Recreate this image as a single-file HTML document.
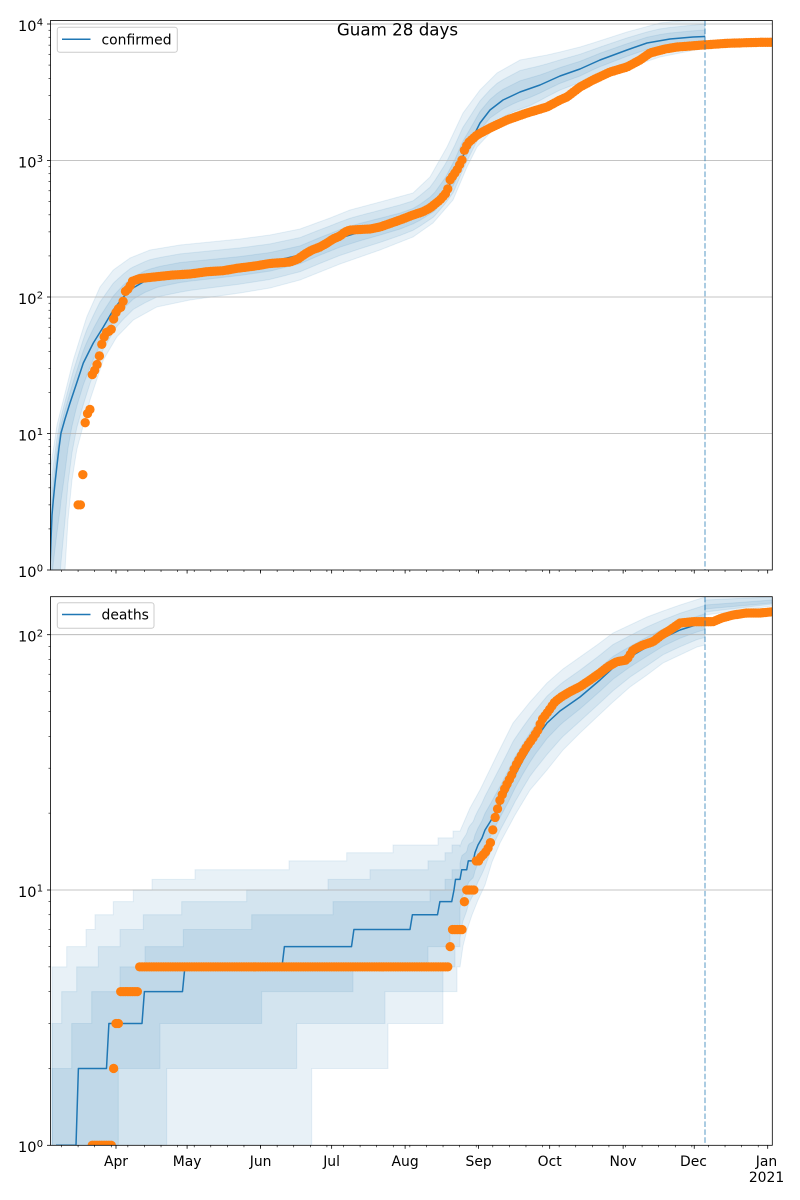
<!DOCTYPE html>
<html>
<head>
<meta charset="utf-8">
<style>
html,body{margin:0;padding:0;background:#fff;}
svg{display:block;}
text{font-family:"DejaVu Sans","Liberation Sans",sans-serif;fill:#000;}
.yl{font-size:14.5px;}
.ys{font-size:10px;}
.xl{font-size:13.9px;}
.lg{font-size:13.9px;}
</style>
</head>
<body>
<svg id="s" width="800" height="1200" viewBox="0 0 800 1200" xmlns="http://www.w3.org/2000/svg">
<defs>
<clipPath id="c1"><rect x="50.5" y="20.5" width="721.8" height="549.5"/></clipPath>
<clipPath id="c2"><rect x="50.5" y="596.7" width="721.8" height="548.6"/></clipPath>
</defs>
<rect x="0" y="0" width="800" height="1200" fill="#fff"/>
<g id="g1" clip-path="url(#c1)"></g>
<g id="g2" clip-path="url(#c2)"></g>
<g id="axes"></g>

<!-- spines -->
<rect x="50.5" y="20.5" width="721.8" height="549.5" fill="none" stroke="#000" stroke-width="0.8"/>
<rect x="50.5" y="596.7" width="721.8" height="548.6" fill="none" stroke="#000" stroke-width="0.8"/>

<!-- title -->
<text x="397.5" y="35.5" text-anchor="middle" style="font-size:16.7px">Guam 28 days</text>

<!-- top y labels -->
<text x="36.5" y="576.8" text-anchor="end" class="yl">10</text><text x="36.7" y="571.7" class="ys">0</text>
<text x="36.5" y="440.3" text-anchor="end" class="yl">10</text><text x="36.7" y="435.2" class="ys">1</text>
<text x="36.5" y="303.8" text-anchor="end" class="yl">10</text><text x="36.7" y="298.7" class="ys">2</text>
<text x="36.5" y="167.3" text-anchor="end" class="yl">10</text><text x="36.7" y="162.2" class="ys">3</text>
<text x="36.5" y="30.8" text-anchor="end" class="yl">10</text><text x="36.7" y="25.7" class="ys">4</text>

<!-- bottom y labels -->
<text x="36.5" y="1152.1" text-anchor="end" class="yl">10</text><text x="36.7" y="1147" class="ys">0</text>
<text x="36.5" y="896.8" text-anchor="end" class="yl">10</text><text x="36.7" y="891.7" class="ys">1</text>
<text x="36.5" y="641.5" text-anchor="end" class="yl">10</text><text x="36.7" y="636.4" class="ys">2</text>

<!-- x labels -->
<text x="116" y="1166" text-anchor="middle" class="xl">Apr</text>
<text x="187.1" y="1166" text-anchor="middle" class="xl">May</text>
<text x="260.6" y="1166" text-anchor="middle" class="xl">Jun</text>
<text x="331.6" y="1166" text-anchor="middle" class="xl">Jul</text>
<text x="405.1" y="1166" text-anchor="middle" class="xl">Aug</text>
<text x="478.6" y="1166" text-anchor="middle" class="xl">Sep</text>
<text x="549.7" y="1166" text-anchor="middle" class="xl">Oct</text>
<text x="623.1" y="1166" text-anchor="middle" class="xl">Nov</text>
<text x="693.5" y="1166" text-anchor="middle" class="xl">Dec</text>
<text x="766.5" y="1166" text-anchor="middle" class="xl">Jan</text>
<text x="766.5" y="1182" text-anchor="middle" class="xl">2021</text>

<!-- legends -->
<rect x="57.3" y="27.3" width="120" height="25" rx="2.5" ry="2.5" fill="#fff" fill-opacity="0.8" stroke="#cccccc" stroke-width="1"/>
<line x1="62" y1="39.3" x2="90.5" y2="39.3" stroke="#1f77b4" stroke-width="1.5"/>
<text x="101.5" y="44.3" class="lg">confirmed</text>

<rect x="57.3" y="602.7" width="96.7" height="25.6" rx="2.5" ry="2.5" fill="#fff" fill-opacity="0.8" stroke="#cccccc" stroke-width="1"/>
<line x1="62" y1="614.5" x2="90.5" y2="614.5" stroke="#1f77b4" stroke-width="1.5"/>
<text x="101.5" y="619.5" class="lg">deaths</text>
</svg>

<script>
(function(){
const NS='http://www.w3.org/2000/svg';
function el(parent, tag, attrs){ const e=document.createElementNS(NS,tag); for(const k in attrs) e.setAttribute(k,attrs[k]); parent.appendChild(e); return e; }
function pathFrom(pts){ return 'M'+pts.map(p=>p[0].toFixed(2)+','+p[1].toFixed(2)).join('L'); }
function bandPath(up, lo){ return pathFrom(up.concat(lo.slice().reverse()))+'Z'; }
function interp(p,x){ if(x<=p[0][0]) return p[0][1]; for(let k=1;k<p.length;k++){ if(x<=p[k][0]){ const a=p[k-1],b=p[k]; if(b[0]===a[0]) return b[1]; return a[1]+(b[1]-a[1])*(x-a[0])/(b[0]-a[0]); } } return p[p.length-1][1]; }
const xD=i=>116+2.3698*i;
const yT=v=>570-136.5*Math.log10(v);
const yB=v=> v<=0 ? 1175 : 1145.3-255.3*Math.log10(v);
const BLUE='#1f77b4', ORANGE='#ff7f0e';

function drawBand(g, up, lo){
  el(g,'path',{d:bandPath(up,lo), fill:BLUE, 'fill-opacity':0.1, stroke:BLUE, 'stroke-opacity':0.1, 'stroke-width':1});
}

/* ---------------- TOP PANEL ---------------- */
const g1=document.getElementById('g1');
const medT=[[50,570],[51,540],[52,515],[53.3,500],[55,483],[57,465],[59,448],[61,433],[65,419],[70,403],[76.7,383],[83.3,363],[93.3,343],[103.3,327],[113.3,310],[123.3,297],[133,288],[145,281],[160,276],[180,272],[200,270],[240,266],[270,262],[300,255],[320,246],[340,238],[360,232],[380,227],[400,222],[420,214],[435,205],[445,193],[455,175],[462,158],[470,143],[480,123],[490,110],[503,100],[520,92],[540,85],[560,76],[580,69],[600,60],[627,50],[647,43],[670,39],[693,37],[705,36.5]];
const OUT=[[50,470],[53.3,450],[57,425],[63.3,400],[73.3,360],[86.7,317],[100,287],[113.3,270],[130,258],[150,250],[180,245],[240,239],[270,235],[300,229],[330,218],[350,210],[380,202],[413,193],[430,177],[447,147],[463,113],[480,90],[497,73],[520,60],[547,55],[560,52],[580,47],[593,43],[627,32],[660,23],[705,18]];
const OLT=[[50,700],[60,640],[65,570],[68,520],[72,480],[76.7,450],[90,400],[103.3,360],[116.7,337],[133.3,320],[156.7,307],[190,300],[240,293],[270,288],[300,280],[340,264],[380,250],[413,237],[433,223],[453,200],[467,167],[477,147],[490,133],[513,120],[530,114],[547,104],[560,97],[580,89],[593,82],[627,68],[660,57],[705,48]];
{
  let oU=[],oL=[],mU=[],mL=[],iU=[],iL=[];
  for(let x=50;x<=705;x+=1){
    const m=interp(medT,x), u=interp(OUT,x), l=interp(OLT,x);
    oU.push([x,u]); oL.push([x,l]);
    mU.push([x,m+0.67*(u-m)]); mL.push([x,m+0.67*(l-m)]);
    iU.push([x,m+0.35*(u-m)]); iL.push([x,m+0.35*(l-m)]);
  }
  drawBand(g1,oU,oL); drawBand(g1,mU,mL); drawBand(g1,iU,iL);
}
// grid
[24,160.5,297,433.5].forEach(y=>el(g1,'line',{x1:50.5,y1:y,x2:772.3,y2:y,stroke:'#b0b0b0','stroke-width':0.8}));
// median
el(g1,'path',{d:pathFrom(medT),fill:'none',stroke:BLUE,'stroke-width':1.5,'stroke-linejoin':'round'});
// orange
{
  const early={'-16':3,'-15':3,'-14':5,'-13':12,'-12':14,'-11':15,'-10':27,'-9':29,'-8':32,'-7':37,'-6':45,'-5':51,'-4':55,'-3':56,'-2':58,'-1':69,'0':77,'1':82,'2':84,'3':93,'4':110,'5':114,'6':121};
  const ot=[[130,282],[140,278.5],[157,276.7],[173,275],[190,274],[207,271.7],[223,270.7],[237,268.3],[255,266],[270,263.5],[290,262],[298,259],[305,254],[312,250],[320,247],[327,243],[333,239],[340,236],[345,232],[350,230],[370,229],[380,227],[400,220],[413,215],[423,211.7],[430,208],[440,200],[447,192],[450,180],[457,170],[462,160],[463.5,152],[468,143],[477,135],[490,128],[507,120],[527,113],[547,107],[560,100],[567,97],[580,87],[593,80],[610,72],[627,67],[640,60],[650,53],[665,49],[677,47],[703,45],[727,43.3],[760,42.3],[773,42.3]];
  for(let i=-16;i<=277;i++){
    const x=xD(i); let y;
    if(early[String(i)]!==undefined) y=yT(early[String(i)]);
    else y=interp(ot,x);
    el(g1,'circle',{cx:x.toFixed(2),cy:y.toFixed(2),r:4.65,fill:ORANGE});
  }
}
el(g1,'line',{x1:705,y1:20.5,x2:705,y2:570,stroke:BLUE,'stroke-opacity':0.5,'stroke-width':1.5,'stroke-dasharray':'5.55 2.4'});

/* ---------------- BOTTOM PANEL ---------------- */
const g2=document.getElementById('g2');
function stepPts(steps,xEnd){ const pts=[]; for(let k=0;k<steps.length;k++){ const x0=steps[k][0], x1=(k+1<steps.length)?steps[k+1][0]:xEnd, y=yB(steps[k][1]); pts.push([x0,y],[x1,y]); } return pts; }
const medB=[[56,yB(1)],[76,yB(1)],[78.4,yB(2)],[106.5,yB(2)],[108.9,yB(3)],[142,yB(3)],[144.4,yB(4)],[182.5,yB(4)],[184.9,yB(5)],[282,yB(5)],[284.4,yB(6)],[351.5,yB(6)],[353.9,yB(7)],[410,yB(7)],[412.4,yB(8)],[437.5,yB(8)],[439.9,yB(9)],[451.7,yB(9)],[454,yB(10)],[455.5,yB(11)],[460,yB(11)],[461.7,yB(12)],[466.7,yB(12)],[468.3,yB(13)],[473.3,yB(13)],[475,yB(14)],[478,845],[482,838],[485,830],[490,822],[500,805],[508,790],[515,775],[523,760],[535,740],[547,723],[560,711],[580,697],[600,680],[613,668],[630,657],[647,647],[663,638],[680,630],[705,622]];
const OUs=[[52,5],[66.7,6],[86,7],[95,8],[113.3,9],[133.3,10],[152,11],[195,12],[289,13],[346.7,14],[393,15],[438,16],[453,17]];
const OUsm=[[460,yB(17)],[470,808],[480,790],[497,755],[513,723],[530,702],[547,683],[563,669],[580,657],[597,645],[613,633],[630,625],[647,617],[663,611],[680,605],[705,597]];
const MUs=[[52,3],[61.7,4],[76.7,5],[98.3,6],[120,7],[143.3,8],[181.7,9],[246.7,10],[328,11],[370,12],[428,13],[445,14],[452,15]];
const IUs=[[52,2],[71.7,3],[91.7,4],[120,5],[145,6],[183.3,7],[251.7,8],[333,9],[430,10],[445,11],[452,12]];
const ILs=[[52,0],[118.3,2],[160,3],[261.7,4],[353,5],[428,6],[450,7]];
const MLs=[[52,0],[166.7,2],[296.7,3],[385,4],[443,5],[455,6]];
const OLs=[[52,0],[311.7,2],[388,3],[443,4],[457,5]];
const OLsm=[[460,yB(5)],[463,946],[467,930],[472,915],[478,900],[485,885],[492,862],[500,843],[515,815],[530,790],[547,770],[563,750],[580,733],[597,717],[613,702],[630,687],[647,675],[663,663],[680,655],[697,647],[705,645]];
{
  let oU=stepPts(OUs,460), oL=stepPts(OLs,460);
  let mU=stepPts(MUs,460), mL=stepPts(MLs,460);
  let iU=stepPts(IUs,460), iL=stepPts(ILs,460);
  for(let x=460;x<=705;x+=1){
    const m=interp(medB,x), u=interp(OUsm,x), l=interp(OLsm,x);
    oU.push([x,u]); oL.push([x,l]);
    mU.push([x,m+0.67*(u-m)]); mL.push([x,m+0.67*(l-m)]);
    iU.push([x,m+0.33*(u-m)]); iL.push([x,m+0.33*(l-m)]);
  }
  drawBand(g2,oU,oL); drawBand(g2,mU,mL); drawBand(g2,iU,iL);
  // after forecast line
  drawBand(g2,[[705,590],[772.3,590]],[[705,615],[772.3,606]]);
  drawBand(g2,[[705,600],[772.3,597]],[[705,612],[772.3,604]]);
  drawBand(g2,[[705,605],[772.3,600]],[[705,609],[772.3,603]]);
}
[634.7,890].forEach(y=>el(g2,'line',{x1:50.5,y1:y,x2:772.3,y2:y,stroke:'#b0b0b0','stroke-width':0.8}));
el(g2,'path',{d:pathFrom(medB),fill:'none',stroke:BLUE,'stroke-width':1.5,'stroke-linejoin':'round'});
{
  const ob=[[476,861],[480,858],[485,853],[490,845],[495,818],[500,800],[505,788],[511.7,775],[515,767],[521.7,755],[526.7,746.7],[533,738],[538,730],[541.7,720],[548,711.7],[555,701.7],[561.7,696.7],[570,691.7],[580,686.7],[590,680],[600,673],[608,666.7],[616.7,661.7],[626.7,660],[633,650],[643,645],[653,641.7],[661.7,635],[670,630],[680,623],[693,621.7],[703,621.7],[713,621.7],[721.7,618],[733,615],[746.7,613],[760,613],[773,611.7]];
  for(let i=-10;i<=277;i++){
    const x=xD(i); let v=null, y;
    if(i<=-2) v=1; else if(i===-1) v=2; else if(i<=1) v=3; else if(i<=9) v=4;
    else if(i<=140) v=5; else if(i===141) v=6; else if(i<=146) v=7; else if(i===147) v=9;
    else if(i<=151) v=10; else if(i<=153) v=13;
    y = (v!==null) ? yB(v) : interp(ob,x);
    el(g2,'circle',{cx:x.toFixed(2),cy:y.toFixed(2),r:4.65,fill:ORANGE});
  }
}
el(g2,'line',{x1:705,y1:596.7,x2:705,y2:1145.3,stroke:BLUE,'stroke-opacity':0.5,'stroke-width':1.5,'stroke-dasharray':'5.55 2.4'});

/* ---------------- TICKS ---------------- */
const ax=document.getElementById('axes');
function tick(x1,y1,x2,y2,w){ el(ax,'line',{x1:x1,y1:y1,x2:x2,y2:y2,stroke:'#000','stroke-width':w}); }
const months=[0,30,61,91,122,153,183,214,244,275];
[570,1145.3].forEach(B=>{
  months.forEach(i=>{const x=xD(i); tick(x,B,x,B+3.5,0.8);});
  for(let i=-23;i<=277;i+=7){const x=xD(i); if(x>50.5&&x<772.3) tick(x,B,x,B+2,0.6);}
});
for(let d=0;d<=4;d++){ const y=570-136.5*d; tick(50.5,y,47,y,0.8);
  if(d<4) for(let m=2;m<=9;m++){ const yy=570-136.5*(d+Math.log10(m)); tick(50.5,yy,48.5,yy,0.6);} }
for(let d=0;d<=2;d++){ const y=1145.3-255.3*d; tick(50.5,y,47,y,0.8);
  if(d<2) for(let m=2;m<=9;m++){ const yy=1145.3-255.3*(d+Math.log10(m)); tick(50.5,yy,48.5,yy,0.6);} }
})();
</script>
</body>
</html>
